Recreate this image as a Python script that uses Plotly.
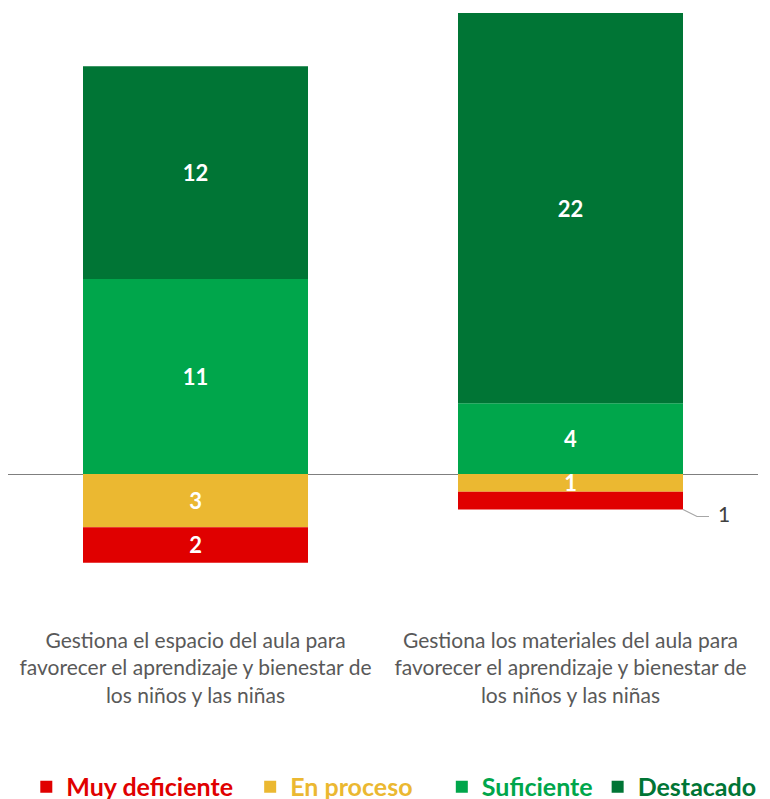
import plotly.graph_objects as go

categories = [
    "Gestiona el espacio del aula para<br>favorecer el aprendizaje y bienestar de<br>los niños y las niñas",
    "Gestiona los materiales del aula para<br>favorecer el aprendizaje y bienestar de<br>los niños y las niñas",
]
muy_deficiente = [2, 1]
en_proceso = [3, 1]
suficiente = [11, 4]
destacado = [12, 22]

series_names = ["Muy deficiente", "En proceso", "Suficiente", "Destacado"]
colors = ["#E00000", "#EBB831", "#00A64B", "#007535"]

FONT = "Lato"
idx = list(range(len(categories)))
NB = "&nbsp;"

fig = go.Figure()

def add(vals, name, color, rank, sign, inside_show, pad):
    fig.add_trace(go.Bar(
        x=idx, y=[sign * v for v in vals],
        name=f'<span style="color:{color}">{name}</span>{pad}',
        marker=dict(color=color, line=dict(width=0)),
        text=[str(v) if s else "" for v, s in zip(vals, inside_show)],
        textposition="inside", insidetextanchor="middle",
        constraintext="none",
        textfont=dict(family=FONT, size=22, color="white", weight="bold"),
        textangle=0,
        legendrank=rank,
        hoverinfo="skip",
    ))

# negatives: En proceso stacks closest to zero, Muy deficiente below
add(en_proceso, series_names[1], colors[1], 2, -1, [True, True], NB * 4)
add(muy_deficiente, series_names[0], colors[0], 1, -1, [True, False], NB * 2)
add(suficiente, series_names[2], colors[2], 3, 1, [True, True], "")
add(destacado, series_names[3], colors[3], 4, 1, [True, True], "")

# outside label for small red segment of second bar
half_w = 0.3
y_bottom = -(en_proceso[1] + muy_deficiente[1])
fig.add_shape(type="path", xref="x", yref="y",
              xsizemode="pixel", ysizemode="pixel",
              xanchor=1 + half_w, yanchor=y_bottom,
              path="M0,0 L14,-7 L26,-7",
              line=dict(color="#A6A6A6", width=1.2))
fig.add_annotation(x=1 + half_w, y=y_bottom, xref="x", yref="y",
                   text=str(muy_deficiente[1]), showarrow=False,
                   xshift=41, yshift=-4,
                   font=dict(family=FONT, size=21, color="#404040"))

fig.update_layout(
    width=762, height=791,
    margin=dict(l=0, r=12, t=5, b=179, autoexpand=False),
    barmode="relative", bargap=0.4,
    plot_bgcolor="white", paper_bgcolor="white",
    showlegend=True,
    legend=dict(orientation="h", x=0.5144, xanchor="center", y=-0.275, yanchor="middle",
                font=dict(family=FONT, size=25, weight="bold"),
                traceorder="normal", itemclick=False),
    xaxis=dict(tickmode="array", tickvals=idx, ticktext=categories,
               tickfont=dict(family=FONT, size=21, color="#595959"),
               ticklabelstandoff=6,
               showline=False, showgrid=False, ticks="", automargin=False,
               range=[-0.5, 1.5]),
    yaxis=dict(range=[-8.23, 26], showticklabels=False, showgrid=False,
               automargin=False,
               zeroline=True, zerolinecolor="#7F7F7F", zerolinewidth=1),
)

fig.write_html("out.html")
